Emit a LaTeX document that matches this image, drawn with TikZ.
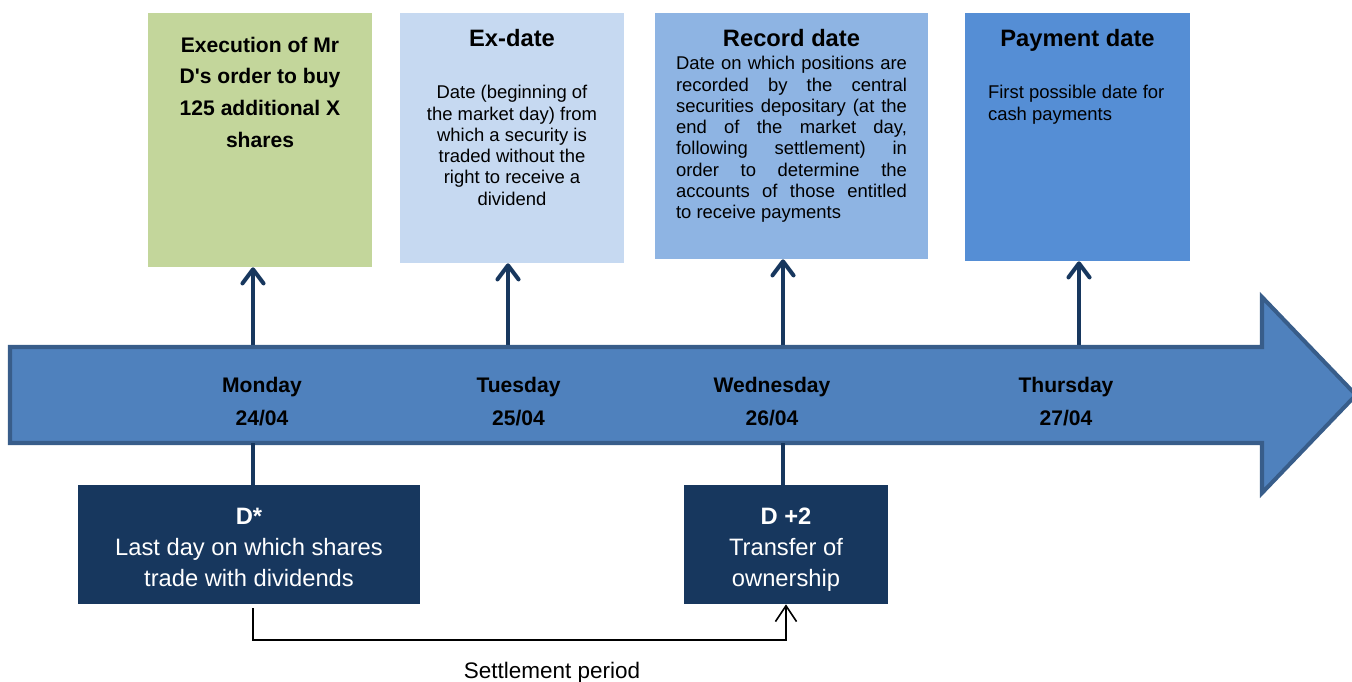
\documentclass[tikz,border=0pt]{standalone}
\usepackage{fontspec}
\setmainfont{Liberation Sans}
\usetikzlibrary{arrows.meta,positioning}
\definecolor{execgreen}{HTML}{C3D69B}
\definecolor{exblue}{HTML}{C6D9F1}
\definecolor{recblue}{HTML}{8EB4E3}
\definecolor{payblue}{HTML}{558ED5}
\definecolor{barfill}{HTML}{4F81BD}
\definecolor{barline}{HTML}{385D8A}
\definecolor{navy}{HTML}{17375E}
\newcommand{\boxstrut}{\rule{0pt}{15.5pt}}

\begin{document}
\begin{tikzpicture}[x=0.02cm,y=-0.02cm,inner sep=0pt,
		topbox/.style={rectangle,minimum width=4.48cm},
		headtext/.style={font=\bfseries\fontsize{12}{18}\selectfont,align=center},
		titletext/.style={font=\bfseries\fontsize{13.5}{16}\selectfont},
		bodytext/.style={font=\fontsize{10.5}{12.1}\selectfont},
		daytext/.style={font=\bfseries\fontsize{12}{18.8}\selectfont,align=center},
		lowbox/.style={rectangle,fill=navy,text=white,minimum height=2.38cm,align=center,font=\fontsize{13.5}{17.6}\selectfont},
		uparrow/.style={draw=navy,line width=2.3pt,-{Straight Barb[length=8pt,width=12pt,round]}},
		link/.style={draw=navy,line width=2.3pt},
		settle/.style={draw=black,line width=0.9pt,-{Straight Barb[length=9pt,width=12pt]}}]
	\useasboundingbox (0,0) rectangle (1352,682);
	% dates above the line
	\node[topbox,fill=execgreen,minimum height=5.08cm] (exec) at (260,140) {};
	\node[topbox,fill=exblue,minimum height=5cm] (exdate) at (512,138) {};
	\node[topbox,fill=recblue,minimum width=5.46cm,minimum height=4.92cm] (record) at (791.5,136) {};
	\node[topbox,fill=payblue,minimum width=4.5cm,minimum height=4.96cm] (payment) at (1077.5,137) {};
	\node[headtext,below=0.48cm of exec.north] (exectext) {Execution of Mr\\D\textquotesingle s order to buy\\125 additional X\\shares};
	\node[titletext,below=0.32cm of exdate.north] (extitle) {Ex-date};
	\node[bodytext,align=center,below=1.45cm of exdate.north] (exbody) {Date (beginning of\\the market day) from\\which a security is\\traded without the\\right to receive a\\dividend};
	\node[titletext,below=0.32cm of record.north] (rectitle) {Record date};
	\node[bodytext,align=justify,text width=4.62cm,below=0.87cm of record.north] (recbody) {Date on which positions are\linebreak
		recorded by the central\linebreak securities depositary (at the\linebreak end of the market day,\linebreak
		following settlement) in\linebreak order to determine the\linebreak accounts of those entitled\linebreak to receive payments};
	\node[titletext,below=0.32cm of payment.north] (paytitle) {Payment date};
	\node[bodytext,align=left,below right=1.45cm and 0.46cm of payment.north west] (paybody) {First possible date for\\cash payments};

	\coordinate (montop) at (253,347);
	\coordinate (tuetop) at (508,347);
	\coordinate (wedtop) at (783,347);
	\coordinate (thutop) at (1079,347);
	\coordinate (monbot) at (253,443);
	\coordinate (wedbot) at (783,443);
	\draw[uparrow] (montop) -- (montop |- exec.south);
	\draw[uparrow] (tuetop) -- (tuetop |- exdate.south);
	\draw[uparrow] (wedtop) -- (wedtop |- record.south);
	\draw[uparrow] (thutop) -- (thutop |- payment.south);

	% the time line
	\draw[barline,fill=barfill,line width=2.3pt] (10,347) -- (1262,347) -- (1262,297) -- (1356,395)
		-- (1262,493) -- (1262,443) -- (10,443) -- cycle;
	\node[daytext] (mon) at (262,402) {Monday\\24/04};
	\node[daytext] (tue) at (518.5,402) {Tuesday\\25/04};
	\node[daytext] (wed) at (772,402) {Wednesday\\26/04};
	\node[daytext] (thu) at (1066,402) {Thursday\\27/04};

	% below the line
	\node[lowbox,minimum width=6.84cm] (lastday) at (249,544.5) {\boxstrut\textbf{D*}\\Last day on which shares\\trade with dividends\vphantom{p}};
	\node[lowbox,minimum width=4.08cm] (transfer) at (786,544.5) {\boxstrut\textbf{D +2}\\Transfer of\\ownership};
	\draw[link] (monbot) -- (monbot |- lastday.north);
	\draw[link] (wedbot) -- (wedbot |- transfer.north);

	\coordinate (s1) at (253,608);
	\coordinate (s2) at (786,640);
	\draw[settle] (s1) |- (s2) -- (transfer.south);
	\node[font=\fontsize{12.8}{14}\selectfont] (period) at (552,673) {Settlement period};
\end{tikzpicture}
\end{document}
